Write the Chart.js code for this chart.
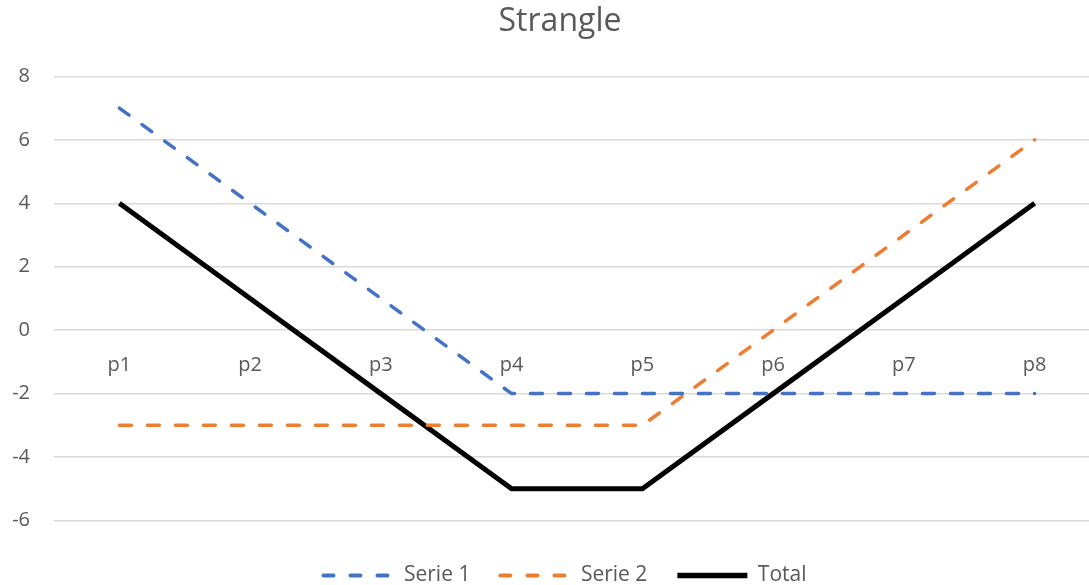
<!DOCTYPE html>
<html>
<head>
<meta charset="utf-8">
<script src="https://cdn.jsdelivr.net/npm/chart.js@4"></script>
<style>
  html, body { margin: 0; padding: 0; background: #fff; overflow: hidden; }
  /* plot area runs a little past the right edge, as in the original */
  #wrap { width: 1089px; height: 585px; overflow: hidden; }
</style>
</head>
<body>
<div id="wrap"><canvas id="chart" width="1100" height="585"></canvas></div>
<script>
// values
const categories = ["p1", "p2", "p3", "p4", "p5", "p6", "p7", "p8"];
const serie1 = [7, 4, 1, -2, -2, -2, -2, -2];
const serie2 = [-3, -3, -3, -3, -3, 0, 3, 6];
const total = [4, 1, -2, -5, -5, -2, 1, 4];
const yTicks = [-6, -4, -2, 0, 2, 4, 6, 8];

const grey = "#595959";
const fontFamily = "'Open Sans', 'Liberation Sans', sans-serif";

// title and legend sit a bit right of the canvas centre in the original
const nudge = {
  id: "nudge",
  afterLayout(chart) {
    chart.titleBlock.left += 10;
    chart.titleBlock.right += 10;
    chart.legend.left += 15;
    chart.legend.right += 15;
  }
};

const ctx = document.getElementById("chart").getContext("2d");
new Chart(ctx, {
  type: "line",
  data: {
    labels: categories,
    datasets: [
      {
        label: "Serie 1",
        data: serie1,
        borderColor: "#4472C4",
        backgroundColor: "#4472C4",
        borderWidth: 3.5,
        borderDash: [12, 16],
        borderCapStyle: "round",
        pointRadius: 0,
        tension: 0
      },
      {
        label: "Serie 2",
        data: serie2,
        borderColor: "#ED7D31",
        backgroundColor: "#ED7D31",
        borderWidth: 3.5,
        borderDash: [12, 16],
        borderCapStyle: "round",
        pointRadius: 0,
        tension: 0
      },
      {
        label: "Total",
        data: total,
        borderColor: "#000000",
        backgroundColor: "#000000",
        borderWidth: 5,
        pointRadius: 0,
        tension: 0
      }
    ]
  },
  plugins: [nudge],
  options: {
    responsive: false,
    animation: false,
    layout: { padding: { left: 0, right: 0, top: 0, bottom: -11 } },
    plugins: {
      title: {
        display: true,
        text: "Strangle",
        color: grey,
        font: { family: fontFamily, size: 32, weight: "normal" },
        padding: { top: 3, bottom: 35 }
      },
      legend: {
        position: "bottom",
        title: { display: true, text: "", font: { size: 10, lineHeight: 1.45 }, padding: 0 },
        labels: {
          color: grey,
          font: { family: fontFamily, size: 21 },
          usePointStyle: true,
          pointStyle: "line",
          pointStyleWidth: 70,
          padding: 30,
          generateLabels: (chart) => {
            const items = Chart.defaults.plugins.legend.labels.generateLabels(chart);
            items.forEach((item) => {
              const ds = chart.data.datasets[item.datasetIndex];
              item.lineDash = ds.borderDash ? [10, 17] : [];
              item.lineCap = ds.borderDash ? "round" : "butt";
              item.lineWidth = ds.borderWidth + 0.5;
              item.strokeStyle = ds.borderColor;
            });
            return items;
          }
        }
      },
      tooltip: { enabled: false }
    },
    scales: {
      x: {
        position: { y: 0 },
        offset: true,
        grid: { display: false, drawTicks: false },
        border: { display: false },
        ticks: {
          color: grey,
          font: { family: fontFamily, size: 20 },
          padding: 23,
          maxRotation: 0
        }
      },
      y: {
        min: -6,
        max: 8,
        afterBuildTicks: (axis) => {
          axis.ticks = yTicks.map((v) => ({ value: v }));
        },
        afterFit: (axis) => {
          axis.width = 54;
        },
        grid: { color: "#d9d9d9", lineWidth: 1.5, drawTicks: false },
        border: { display: false },
        ticks: {
          color: grey,
          font: { family: fontFamily, size: 20 },
          padding: 24
        }
      }
    }
  }
});
</script>
</body>
</html>
